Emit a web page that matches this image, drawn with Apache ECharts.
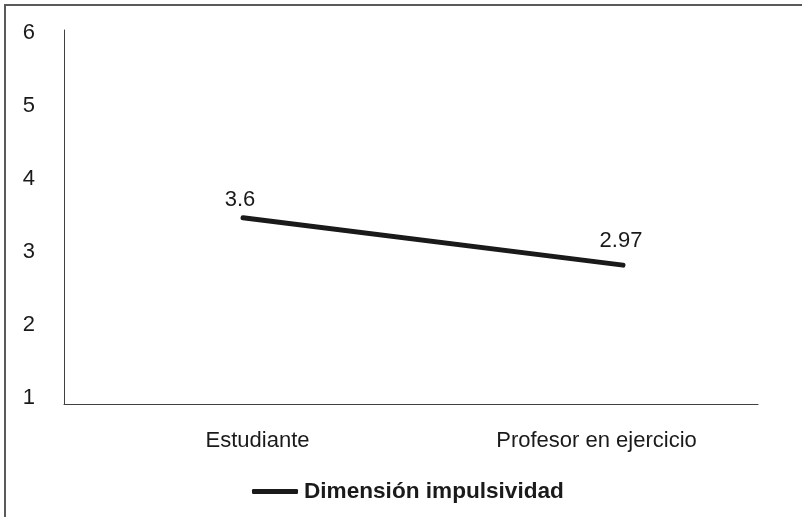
<!DOCTYPE html>
<html><head><meta charset="utf-8">
<script src="https://cdn.jsdelivr.net/npm/echarts@6/dist/echarts.min.js"></script>
<style>html,body{margin:0;padding:0;background:#fff}#c{width:802px;height:517px}</style>
</head><body><div id="c"></div>
<script>
const categories = ['Estudiante', 'Profesor en ejercicio'];
const seriesName = 'Dimensión impulsividad';
// values as plotted in the picture
const values = [3.47, 2.82];
// data label texts as printed in the picture
const labelTexts = ['3.6', '2.97'];
const yTicks = [1, 2, 3, 4, 5, 6];

const chart = echarts.init(document.getElementById('c'), null, {renderer: 'canvas'});
const font = '"Liberation Sans", Arial, sans-serif';
const fs = 22;
const labelOffsets = [[-3, 0], [-2, -6]];

chart.setOption({
  animation: false,
  backgroundColor: '#fff',
  graphic: [{
    type: 'polyline', silent: true,
    shape: {points: [[5, 517], [5, 5], [802, 5]]},
    style: {stroke: '#5a5a5a', lineWidth: 2, fill: null}
  }],
  grid: [
    {left: 64, right: 44, top: 30, bottom: 113},
    {left: 88, right: 36, top: 33, bottom: 119},
    {left: 243, right: 179, top: 33, bottom: 119}
  ],
  legend: {
    left: 252, top: 480, padding: 0,
    icon: 'roundRect', itemWidth: 46, itemHeight: 5, itemGap: 10,
    textStyle: {fontFamily: font, fontSize: 22.6, fontWeight: 'bold', color: '#1a1a1a', padding: [0, 0, 0, 1]},
    data: [seriesName]
  },
  xAxis: [
    {gridIndex: 0, type: 'category', data: categories, axisLine: {show: true, lineStyle: {color: '#404040', width: 1}}, axisTick: {show: false}, axisLabel: {show: false}, splitLine: {show: false}},
    {gridIndex: 1, type: 'category', data: categories, axisLine: {show: false}, axisTick: {show: false},
     axisLabel: {fontFamily: font, fontSize: fs, color: '#1a1a1a', margin: 32}},
    {gridIndex: 2, type: 'category', data: categories, boundaryGap: false, show: false}
  ],
  yAxis: [
    {gridIndex: 0, type: 'value', min: 1, max: 6, interval: 1, axisLine: {show: true, lineStyle: {color: '#404040', width: 1}}, axisTick: {show: false}, axisLabel: {show: false}, splitLine: {show: false}},
    {gridIndex: 1, type: 'value', min: yTicks[0], max: yTicks[yTicks.length - 1], interval: 1, axisLine: {show: false}, axisTick: {show: false}, splitLine: {show: false},
     axisLabel: {fontFamily: font, fontSize: fs, color: '#1a1a1a', margin: 53}},
    {gridIndex: 2, type: 'value', min: 1, max: 6, interval: 1, show: false}
  ],
  series: [{
    name: seriesName,
    type: 'line',
    xAxisIndex: 2, yAxisIndex: 2,
    symbol: 'circle', symbolSize: 0, showSymbol: true,
    color: '#1a1a1a',
    lineStyle: {color: '#1a1a1a', width: 5, cap: 'round'},
    label: {show: true, position: 'top', distance: 7, fontFamily: font, fontSize: fs, color: '#1a1a1a'},
    data: values.map((v, i) => ({
      value: v,
      label: {offset: labelOffsets[i], formatter: labelTexts[i]}
    }))
  }]
});
</script></body></html>
